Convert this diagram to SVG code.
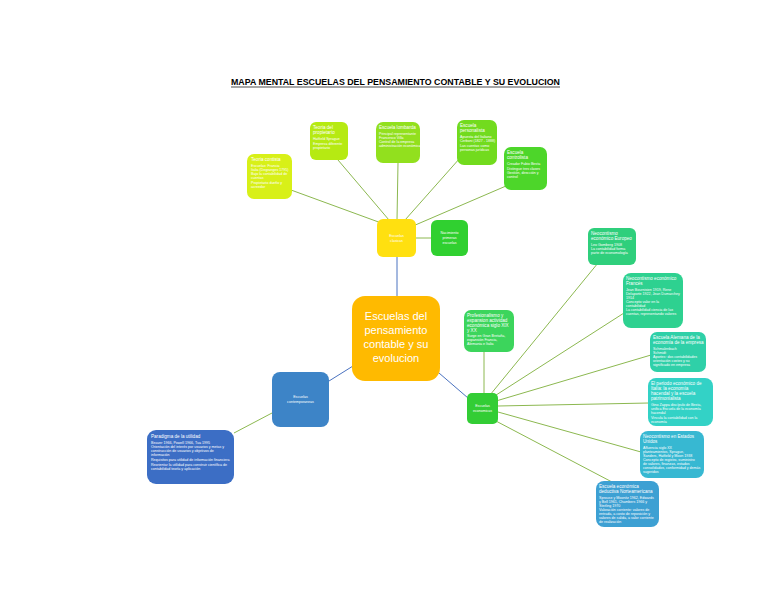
<svg xmlns="http://www.w3.org/2000/svg" width="768" height="594" viewBox="0 0 768 594">
<style>
.n{stroke:none}
.t{font-family:"Liberation Sans",Arial,sans-serif;fill:#fff}
.h{font-size:4.6px}
.b{font-size:3.6px}
.c{text-anchor:middle}
.g{stroke:#8CB850;stroke-width:1;fill:none}
.bl{stroke:#4A72C0;stroke-width:1;fill:none}
</style>
<rect width="768" height="594" fill="#fff"/>
<text x="231" y="85" font-family="Liberation Sans,Arial,sans-serif" font-size="9.6" font-weight="bold" fill="#000" textLength="329" lengthAdjust="spacingAndGlyphs">MAPA MENTAL ESCUELAS DEL PENSAMIENTO CONTABLE Y SU EVOLUCION</text>
<line x1="231" y1="87" x2="560" y2="87" stroke="#000" stroke-width="0.7"/>
<g id="connectors">
<line class="g" x1="384" y1="224" x2="291" y2="190"/>
<line class="g" x1="389" y1="220" x2="338" y2="160"/>
<line class="g" x1="397" y1="220" x2="398" y2="163"/>
<line class="g" x1="405" y1="220" x2="460" y2="158"/>
<line class="g" x1="413" y1="226" x2="506" y2="186"/>
<line class="g" x1="416" y1="238" x2="431" y2="238"/>
<line class="bl" x1="397" y1="257" x2="397" y2="296"/>
<line class="bl" x1="353" y1="366" x2="329" y2="381"/>
<line class="bl" x1="439" y1="373" x2="468" y2="398"/>
<line class="g" x1="272" y1="413" x2="234" y2="433"/>
<line class="g" x1="484" y1="393" x2="484" y2="352"/>
<line class="g" x1="490" y1="395" x2="598" y2="263"/>
<line class="g" x1="493" y1="397" x2="624" y2="313"/>
<line class="g" x1="496" y1="401" x2="651" y2="355"/>
<line class="g" x1="498" y1="406" x2="649" y2="403"/>
<line class="g" x1="498" y1="412" x2="641" y2="452"/>
<line class="g" x1="494" y1="420" x2="612" y2="482"/>
</g>
<g id="title-center">
<rect class="n" x="352" y="296" width="88" height="85" rx="13" fill="#FFBA00"/>
<text class="t c" font-size="11" x="396" y="320">Escuelas del</text>
<text class="t c" font-size="11" x="396" y="334">pensamiento</text>
<text class="t c" font-size="11" x="396" y="348">contable y su</text>
<text class="t c" font-size="11" x="396" y="362">evolucion</text>
</g>
<g id="clasicas">
<rect class="n" x="377" y="219" width="39" height="38" rx="6" fill="#FFE010"/>
<text class="t b c" x="396.5" y="237">Escuelas</text>
<text class="t b c" x="396.5" y="242">clasicas</text>
</g>
<g id="nacimiento">
<rect class="n" x="431" y="220" width="37" height="36" rx="6" fill="#30D030"/>
<text class="t b c" x="449.5" y="234">Nacimiento</text>
<text class="t b c" x="449.5" y="239">primeras</text>
<text class="t b c" x="449.5" y="244">escuelas</text>
</g>
<g id="contista">
<rect class="n" x="247" y="154" width="45" height="45" rx="7" fill="#D8F018"/>
<text class="t h" x="251" y="161">Teoria contista</text>
<text class="t b" x="251" y="167">Escuelas: Francia</text>
<text class="t b" x="251" y="171">Italia (Degranges 1795)</text>
<text class="t b" x="251" y="175">Bajo la contabilidad de</text>
<text class="t b" x="251" y="179">cuentas</text>
<text class="t b" x="251" y="184">Propietario dueño y</text>
<text class="t b" x="251" y="188">acreedor</text>
</g>
<g id="propietario">
<rect class="n" x="310" y="122" width="38" height="38" rx="6" fill="#B6EA12"/>
<text class="t h" x="313" y="129">Teoria del</text>
<text class="t h" x="313" y="134">propietario</text>
<text class="t b" x="313" y="140">Hatfield Sprague</text>
<text class="t b" x="313" y="145">Empresa diferente</text>
<text class="t b" x="313" y="149">propietario</text>
</g>
<g id="lombarda">
<rect class="n" x="376" y="122" width="44" height="41" rx="7" fill="#92E01E"/>
<text class="t h" x="379" y="129">Escuela lombarda</text>
<text class="t b" x="379" y="135">Principal representante</text>
<text class="t b" x="379" y="139">Francesco Villa</text>
<text class="t b" x="379" y="143">Control de la empresa</text>
<text class="t b" x="379" y="147">administración económica</text>
</g>
<g id="personalista">
<rect class="n" x="457" y="120" width="40" height="45" rx="7" fill="#72DB1E"/>
<text class="t h" x="460" y="127">Escuela</text>
<text class="t h" x="460" y="132">personalista</text>
<text class="t b" x="460" y="138">Apuesta del Italiano</text>
<text class="t b" x="460" y="142">Cerboni (1827 - 1888)</text>
<text class="t b" x="460" y="147">Las cuentas como</text>
<text class="t b" x="460" y="151">personas jurídicas</text>
</g>
<g id="controlista">
<rect class="n" x="504" y="147" width="43" height="43" rx="7" fill="#4DD62A"/>
<text class="t h" x="507" y="154">Escuela</text>
<text class="t h" x="507" y="159">controlista</text>
<text class="t b" x="507" y="165">Creador Fabio Besta</text>
<text class="t b" x="507" y="170">Distingue tres clases</text>
<text class="t b" x="507" y="174">Gestión, dirección y</text>
<text class="t b" x="507" y="178">control</text>
</g>
<g id="contemporaneas">
<rect class="n" x="272" y="372" width="57" height="55" rx="8" fill="#3D84C7"/>
<text class="t b c" x="300.5" y="398">Escuelas</text>
<text class="t b c" x="300.5" y="403">contemporaneas</text>
</g>
<g id="paradigma">
<rect class="n" x="147" y="430" width="87" height="54" rx="9" fill="#3C6EC5"/>
<text class="t h" x="151" y="438">Paradigma de la utilidad</text>
<text class="t b" x="151" y="444">Beaver 1966, Powell 1966, Tua 1995</text>
<text class="t b" x="151" y="448">Orientación del interés por usuarios y metas y</text>
<text class="t b" x="151" y="452">construcción de usuarios y objetivos de</text>
<text class="t b" x="151" y="456">información</text>
<text class="t b" x="151" y="461">Requisitos para utilidad de información financiera</text>
<text class="t b" x="151" y="466">Reorientar la utilidad para construir científica de</text>
<text class="t b" x="151" y="470">contabilidad teoría y aplicación</text>
</g>
<g id="economicas">
<rect class="n" x="467" y="393" width="31" height="31" rx="5" fill="#33CD35"/>
<text class="t b c" x="482.5" y="407">Escuelas</text>
<text class="t b c" x="482.5" y="412">economicas</text>
</g>
<g id="profesionalismo">
<rect class="n" x="464" y="310" width="50" height="42" rx="7" fill="#3CD55C"/>
<text class="t h" x="467" y="317">Profesionalismo y</text>
<text class="t h" x="467" y="322">expansion actividad</text>
<text class="t h" x="467" y="327">económica siglo XIX</text>
<text class="t h" x="467" y="332">y XX</text>
<text class="t b" x="467" y="337">Surge en Gran Bretaña,</text>
<text class="t b" x="467" y="341">expansión Francia,</text>
<text class="t b" x="467" y="345">Alemania e Italia</text>
</g>
<g id="neo-europeo">
<rect class="n" x="588" y="228" width="48" height="37" rx="6" fill="#2FCF7C"/>
<text class="t h" x="591" y="235">Neocontismo</text>
<text class="t h" x="591" y="240">económico Europeo</text>
<text class="t b" x="591" y="246">Leo Gomberg 1908</text>
<text class="t b" x="591" y="250">La contabilidad forma</text>
<text class="t b" x="591" y="254">parte de economología</text>
</g>
<g id="neo-frances">
<rect class="n" x="623" y="273" width="60" height="55" rx="8" fill="#2ED190"/>
<text class="t h" x="626" y="280">Neocontismo económico</text>
<text class="t h" x="626" y="285">Francés</text>
<text class="t b" x="626" y="291">Jean Bournisien 1919, Rene</text>
<text class="t b" x="626" y="295">Delaporte 1922, Jean Dumarchey</text>
<text class="t b" x="626" y="299">1914</text>
<text class="t b" x="626" y="303">Concepto valor en la</text>
<text class="t b" x="626" y="307">contabilidad</text>
<text class="t b" x="626" y="311">La contabilidad ciencia de las</text>
<text class="t b" x="626" y="315">cuentas, representando valores</text>
</g>
<g id="alemana">
<rect class="n" x="650" y="332" width="56" height="40" rx="7" fill="#2FD0A8"/>
<text class="t h" x="653" y="339">Escuela Alemana de la</text>
<text class="t h" x="653" y="344">economía de la empresa</text>
<text class="t b" x="653" y="350">Schmalenbach</text>
<text class="t b" x="653" y="354">Schmidt</text>
<text class="t b" x="653" y="358">Aportes: dos contabilidades</text>
<text class="t b" x="653" y="362">orientación costes y su</text>
<text class="t b" x="653" y="366">significado en empresa</text>
</g>
<g id="italia">
<rect class="n" x="648" y="378" width="65" height="48" rx="8" fill="#33D2C6"/>
<text class="t h" x="651" y="385">El periodo económico de</text>
<text class="t h" x="651" y="390">Italia: la economía</text>
<text class="t h" x="651" y="395">hacendal y la escuela</text>
<text class="t h" x="651" y="400">patrimonialista</text>
<text class="t b" x="651" y="406">Gino Zappa discípulo de Besta,</text>
<text class="t b" x="651" y="410">unifica Escuela de la economía</text>
<text class="t b" x="651" y="414">hacendal</text>
<text class="t b" x="651" y="419">Vincula la contabilidad con la</text>
<text class="t b" x="651" y="423">economía</text>
</g>
<g id="eeuu">
<rect class="n" x="640" y="431" width="64" height="47" rx="8" fill="#37B8D2"/>
<text class="t h" x="643" y="438">Neocontismo en Estados</text>
<text class="t h" x="643" y="443">Unidos</text>
<text class="t b" x="643" y="449">Afluencia siglo XX</text>
<text class="t b" x="643" y="453">planteamientos, Sprague,</text>
<text class="t b" x="643" y="457">Sanders, Hatfield y Moon 1938</text>
<text class="t b" x="643" y="461">Concepto de registro, suministro</text>
<text class="t b" x="643" y="465">de valores, finanzas, estados</text>
<text class="t b" x="643" y="469">consolidados, conformidad y demás</text>
<text class="t b" x="643" y="473">sugeridos</text>
</g>
<g id="norteamericana">
<rect class="n" x="596" y="481" width="63" height="46" rx="8" fill="#3DA0D3"/>
<text class="t h" x="599" y="488">Escuela económica</text>
<text class="t h" x="599" y="493">deductiva Norteamericana</text>
<text class="t b" x="599" y="499">Sprouse y Moonitz 1962, Edwards</text>
<text class="t b" x="599" y="503">y Bell 1961, Chambers 1966 y</text>
<text class="t b" x="599" y="507">Sterling 1970</text>
<text class="t b" x="599" y="511">Valoración corriente: valores de</text>
<text class="t b" x="599" y="515">entrada, a costo de reposición y</text>
<text class="t b" x="599" y="519">valores de salida, a valor corriente</text>
<text class="t b" x="599" y="523">de realización</text>
</g>
</svg>
